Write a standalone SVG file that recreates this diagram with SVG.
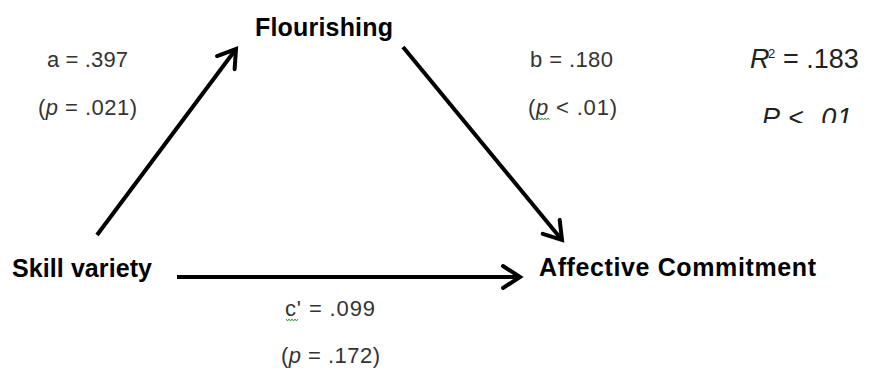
<svg xmlns="http://www.w3.org/2000/svg" width="869" height="368" viewBox="0 0 869 368">
  <style>
    .node { font-family: "Liberation Sans", Arial, sans-serif; font-weight: bold; font-size: 25px; fill: #000; }
    .lbl { font-family: "Liberation Sans", Arial, sans-serif; font-size: 22px; fill: #333; }
    .big { font-family: "Liberation Sans", Arial, sans-serif; font-size: 27px; fill: #222; }
    .sup { font-family: "Liberation Sans", Arial, sans-serif; font-size: 13px; fill: #222; }
    .conn { stroke: #000; stroke-width: 4; fill: none; marker-end: url(#arr); }
    .sq { stroke: #3a9a3a; stroke-width: 1; fill: none; }
  </style>
  <defs>
    <marker id="arr" markerUnits="userSpaceOnUse" viewBox="-22 -14 26 28" markerWidth="26" markerHeight="28" refX="0" refY="0" orient="auto">
      <path d="M-17 -11 L0 0 L-17 11" fill="none" stroke="#000" stroke-width="4" stroke-linecap="round" stroke-linejoin="miter"/>
    </marker>
    <clipPath id="clipP">
      <rect x="740" y="90" width="129" height="33"/>
    </clipPath>
  </defs>

  <g id="connectors">
    <line class="conn" x1="97" y1="235" x2="236" y2="49"/>
    <line class="conn" x1="403" y1="47" x2="562" y2="240"/>
    <line class="conn" x1="177" y1="277" x2="520" y2="277"/>
  </g>

  <g id="node-flourishing">
    <text class="node" x="255" y="36" textLength="138">Flourishing</text>
  </g>
  <g id="node-skill-variety">
    <text class="node" x="12" y="277" textLength="140">Skill variety</text>
  </g>
  <g id="node-affective-commitment">
    <text class="node" x="539" y="276" textLength="277">Affective Commitment</text>
  </g>

  <g id="labels">
    <text class="lbl" x="47" y="67" textLength="81">a = .397</text>
    <text class="lbl" x="38" y="115" textLength="99">(<tspan font-style="italic">p</tspan> = .021)</text>
    <text class="lbl" x="530" y="67" textLength="83">b = .180</text>
    <text class="lbl" x="528" y="115" textLength="89">(<tspan font-style="italic">p</tspan> &lt; .01)</text>
    <path class="sq" d="M536 118 l1.5 2 1.5 -2 1.5 2 1.5 -2 1.5 2 1.5 -2 1.5 2 1.5 -2 1.5 2"/>
    <text class="lbl" x="285" y="316" textLength="90">c' = .099</text>
    <path class="sq" d="M286 319 l1.5 2 1.5 -2 1.5 2 1.5 -2 1.5 2 1.5 -2 1.5 2 1.5 -2"/>
    <text class="lbl" x="281" y="363" textLength="99">(<tspan font-style="italic">p</tspan> = .172)</text>
  </g>

  <g id="stats">
    <text class="big" x="750" y="68" font-style="italic">R</text>
    <text class="sup" x="768" y="58">2</text>
    <text class="big" x="783" y="68">= .183</text>
    <g clip-path="url(#clipP)">
      <text class="big" x="762" y="127" font-style="italic" textLength="90">P &lt; .01</text>
    </g>
  </g>
</svg>
